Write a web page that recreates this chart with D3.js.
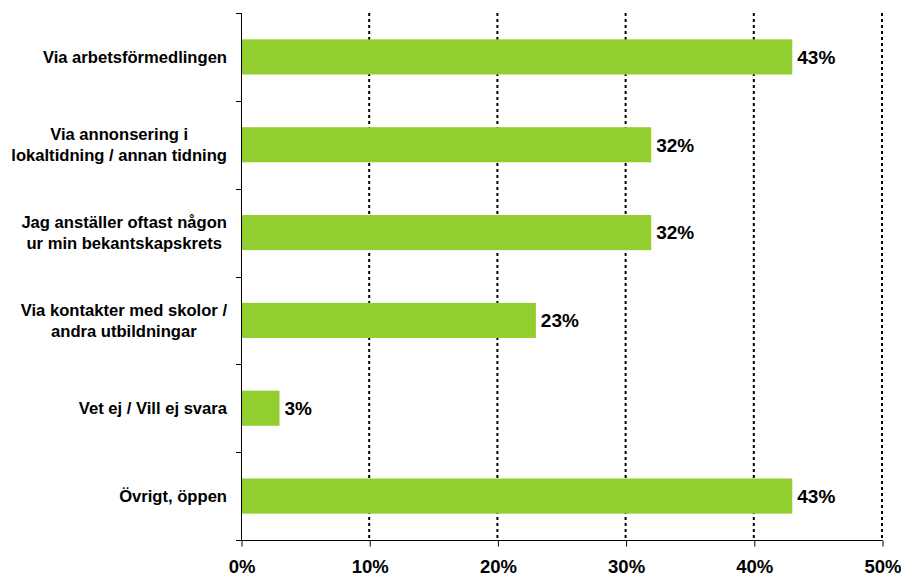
<!DOCTYPE html>
<html>
<head>
<meta charset="utf-8">
<script src="https://cdn.jsdelivr.net/npm/d3@7"></script>
<style>
  html, body { margin: 0; padding: 0; background: #fff; }
  svg { display: block; }
  text { font-family: "Liberation Sans", Arial, sans-serif; font-weight: bold; fill: #000; }
</style>
</head>
<body>
<svg id="chart" width="901" height="577"></svg>
<script>
const categories = [
  ["Via arbetsförmedlingen"],
  ["Via annonsering i", "lokaltidning / annan tidning"],
  ["Jag anställer oftast någon", "ur min bekantskapskrets"],
  ["Via kontakter med skolor /", "andra utbildningar"],
  ["Vet ej / Vill ej svara"],
  ["Övrigt, öppen"]
];
const values = [43, 32, 32, 23, 3, 43];
const xTicks = [0, 10, 20, 30, 40, 50];
const tickLabels = ["0%", "10%", "20%", "30%", "40%", "50%"];

(function () {
const svg = d3.select("#chart");
const pLeft = 241, pRight = 882, pTop = 13, pBottom = 540;

const x = d3.scaleLinear().domain([0, 50]).range([pLeft, pRight]);
const y = d3.scaleBand().domain(d3.range(categories.length)).range([pTop, pBottom]).paddingInner(0.6).paddingOuter(0.3);

// gridlines
svg.append("g").selectAll("line").data(xTicks.slice(1)).join("line")
  .attr("x1", d => x(d)).attr("x2", d => x(d))
  .attr("y1", pTop).attr("y2", pBottom)
  .attr("stroke", "#000").attr("stroke-width", 2)
  .attr("stroke-dasharray", "3,3");

// bars
svg.append("g").selectAll("rect").data(values).join("rect")
  .attr("x", x(0))
  .attr("y", (d, i) => y(i))
  .attr("width", d => x(d) - x(0))
  .attr("height", y.bandwidth())
  .attr("fill", "#92ce30");

// value labels
svg.append("g").selectAll("text").data(values).join("text")
  .attr("x", d => x(d) + 5)
  .attr("y", (d, i) => y(i) + y.bandwidth() / 2)
  .attr("dy", "0.36em")
  .style("font-size", "19px")
  .text(d => d + "%");

// y axis line and ticks at band boundaries
const boundaries = d3.range(categories.length + 1).map(i => pTop + i * y.step());
svg.append("line")
  .attr("x1", pLeft + 0.5).attr("x2", pLeft + 0.5)
  .attr("y1", pTop).attr("y2", pBottom)
  .attr("stroke", "#000").attr("stroke-width", 1);
svg.append("g").selectAll("line").data(boundaries).join("line")
  .attr("x1", pLeft - 5).attr("x2", pLeft + 0.5)
  .attr("y1", d => Math.round(d) + 0.5).attr("y2", d => Math.round(d) + 0.5)
  .attr("stroke", "#000").attr("stroke-width", 1);

// x axis
const xAxis = d3.axisBottom(x).tickValues(xTicks).tickFormat((d, i) => tickLabels[i]).tickSize(6).tickPadding(13);
const gx = svg.append("g").attr("transform", `translate(0.5,${pBottom + 0.5})`).call(xAxis);
gx.attr("font-size", null).attr("font-family", null);
gx.select(".domain").attr("d", `M${pLeft - 0.5},0H${pRight}`).attr("stroke", "#000");
gx.selectAll(".tick line").attr("stroke", "#000");
gx.selectAll(".tick text")
  .style("font-size", "18.5px")
  .attr("fill", "#000");

// category labels: block right-aligned at 227, lines centered within block
const labelRight = 227;
const lineH = 21;
const catG = svg.append("g");
categories.forEach((lines, i) => {
  const cy = y(i) + y.bandwidth() / 2;
  const t = catG.append("text").style("font-size", "16.6px").attr("text-anchor", "middle");
  const n = lines.length;
  const spans = lines.map((ln, k) =>
    t.append("tspan").attr("y", cy + (k - (n - 1) / 2) * lineH).attr("dy", "0.36em").text(ln));
  let w = 0;
  spans.forEach(s => { w = Math.max(w, s.node().getComputedTextLength()); });
  spans.forEach(s => s.attr("x", labelRight - w / 2));
});
})();
</script>
</body>
</html>
